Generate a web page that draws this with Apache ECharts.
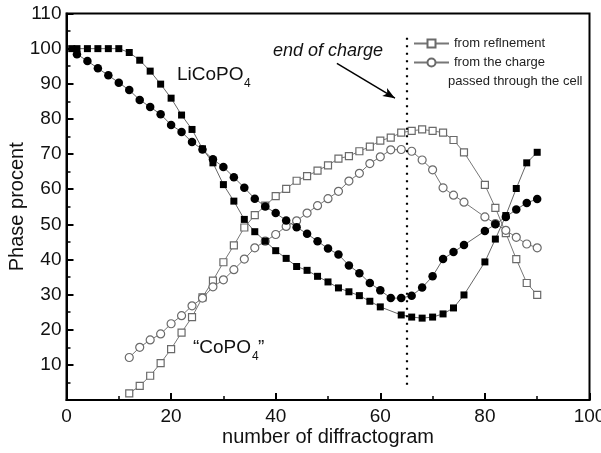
<!DOCTYPE html>
<html><head><meta charset="utf-8">
<script src="https://cdn.jsdelivr.net/npm/echarts@6/dist/echarts.min.js"></script>
<style>html,body{margin:0;padding:0;background:#fff}#c{width:601px;height:453px}</style>
</head><body><div id="c"></div>
<script>
// ---- data ----
const xTickValues = [0, 20, 40, 60, 80, 100];
const yTickValues = [10, 20, 30, 40, 50, 60, 70, 80, 90, 100, 110];

const liRefX = [1,2,4,6,8,10,12,14,16,18,20,22,24,26,28,30,32,34,36,38,40,42,44,46,48,50,52,54,56,58,60,64,66,68,70,72,74,76,80,82,84,86,88,90];
const liRefY = [100,100,100,100,100,100,98.9,96.7,93.6,89.9,85.9,81.1,77.0,71.5,67.5,61.3,56.6,51.4,47.9,45.2,42.5,40.3,38.0,36.9,35.2,33.6,31.9,30.8,29.7,28.1,26.5,24.2,23.6,23.3,23.6,24.5,26.2,29.9,39.3,45.8,52.5,60.2,67.5,70.5];

const liChgX = [2,4,6,8,10,12,14,16,18,20,22,24,26,28,30,32,34,36,38,40,42,44,46,48,50,52,54,56,58,60,62,64,66,68,70,72,74,76,80,82,84,86,88,90];
const liChgY = [98.4,96.5,94.4,92.4,90.3,88.2,85.4,83.4,81.3,78.3,76.3,73.4,71.3,68.5,66.3,63.4,60.4,57.3,55.1,53.2,51.1,49.2,47.3,45.2,43.1,41.4,38.3,36.1,33.3,31.2,29.0,29.0,29.7,32.0,35.2,40.1,42.1,44.1,48.1,50.0,52.1,54.2,56.1,57.2];

const coRefX = [12,14,16,18,20,22,24,26,28,30,32,34,36,38,40,42,44,46,48,50,52,54,56,58,60,62,64,66,68,70,72,74,76,80,82,84,86,88,90];
const coRefY = [1.9,4.0,6.9,10.5,14.5,19.2,23.6,29.2,34.0,39.2,44.0,49.1,52.6,55.3,58.0,60.1,62.4,63.7,65.3,66.8,68.7,69.4,70.8,72.1,73.8,74.7,76.1,76.6,77.0,76.6,76.1,74.0,70.5,61.2,54.7,47.5,40.1,33.3,29.9];

const coChgX = [12,14,16,18,20,22,24,26,28,30,32,34,36,38,40,42,44,46,48,50,52,54,56,58,60,62,64,66,68,70,72,74,76,80,82,84,86,88,90];
const coChgY = [12.1,15.0,17.1,18.8,21.7,24.0,26.8,29.0,32.2,34.2,37.1,40.1,43.3,45.2,47.1,49.4,51.0,53.2,55.3,57.3,59.4,62.3,64.5,67.3,69.2,71.2,71.3,70.8,68.3,65.5,60.4,58.3,56.3,52.1,50.2,48.3,46.3,44.4,43.3];

const endOfChargeX = 65;
const dottedSpan = [103.1, 3.6];
const arrowFrom = [51.7, 95.8];
const arrowTo = [62.8, 85.9];

const legendNames = ['from reflnement', 'from the charge'];
const legendExtra = 'passed through the cell';

// ---- chart ----
const FONT = "'Liberation Sans', Arial, Helvetica, sans-serif";
const pairs = (xs, ys) => xs.map((x, i) => [x, ys[i]]);
const chart = echarts.init(document.getElementById('c'), null, {renderer: 'canvas'});

const axisCommon = {
  axisLine: {show: true, lineStyle: {color: '#000', width: 2}},
  axisTick: {show: true, inside: true, length: 7, lineStyle: {color: '#000', width: 2}},
  minorTick: {show: true, splitNumber: 2, length: 4, lineStyle: {color: '#000', width: 1.5}},
  splitLine: {show: false},
  minorSplitLine: {show: false},
  nameMoveOverlap: false,
  axisLabel: {color: '#111', fontSize: 19, fontFamily: FONT},
  nameTextStyle: {color: '#111', fontSize: 20, fontFamily: FONT}
};

const option = {
  animation: false,
  backgroundColor: '#fff',
  grid: {left: 66.5, right: 11.5, top: 13.5, bottom: 53, outerBoundsMode: 'none', containLabel: false,
    show: true, borderColor: '#000', borderWidth: 2, backgroundColor: 'transparent'},
  xAxis: Object.assign({}, axisCommon, {
    type: 'value', min: 0, max: 100, interval: 20,
    name: 'number of diffractogram', nameLocation: 'middle', nameGap: 27,
    axisLabel: Object.assign({}, axisCommon.axisLabel, {margin: 7,
      formatter: v => (xTickValues.indexOf(v) >= 0 ? String(v) : '')})
  }),
  yAxis: Object.assign({}, axisCommon, {
    type: 'value', min: 0, max: 110, interval: 10,
    name: 'Phase procent', nameLocation: 'middle', nameGap: 39,
    axisLabel: Object.assign({}, axisCommon.axisLabel, {margin: 5,
      formatter: v => (yTickValues.indexOf(v) >= 0 ? String(v) : '')})
  }),
  legend: {
    data: legendNames, orient: 'vertical', left: 408, top: 31.5,
    itemWidth: 35, itemHeight: 10, itemGap: 5,
    textStyle: {color: '#222', fontSize: 13, fontFamily: FONT, lineHeight: 14},
    selectedMode: false
  },
  series: [
    {
      name: legendNames[0], type: 'line', data: pairs(coRefX, coRefY),
      symbol: 'rect', symbolSize: 7, z: 2,
      lineStyle: {color: '#777', width: 1},
      itemStyle: {color: '#fff', borderColor: '#6a6a6a', borderWidth: 1.2},
      emphasis: {disabled: true}
    },
    {
      name: legendNames[1], type: 'line', data: pairs(coChgX, coChgY),
      symbol: 'circle', symbolSize: 8, z: 2,
      lineStyle: {color: '#777', width: 1},
      itemStyle: {color: '#fff', borderColor: '#6a6a6a', borderWidth: 1.2},
      emphasis: {disabled: true}
    },
    {
      name: 'LiCoPO4 refinement', type: 'line', data: pairs(liRefX, liRefY),
      symbol: 'rect', symbolSize: 7, z: 3,
      lineStyle: {color: '#666', width: 1},
      itemStyle: {color: '#000'},
      emphasis: {disabled: true}
    },
    {
      name: 'LiCoPO4 charge', type: 'line', data: pairs(liChgX, liChgY),
      symbol: 'circle', symbolSize: 8.5, z: 3,
      lineStyle: {color: '#666', width: 1},
      itemStyle: {color: '#000'},
      emphasis: {disabled: true},
      markLine: {
        silent: true, animation: false,
        label: {show: false},
        data: [
          [{coord: [endOfChargeX, dottedSpan[0]], symbol: 'none', lineStyle: {color: '#000', width: 2.2, type: [2, 5.5]}},
           {coord: [endOfChargeX, dottedSpan[1]], symbol: 'none'}],
          [{coord: arrowFrom, symbol: 'none', lineStyle: {color: '#000', width: 1.5, type: 'solid'}},
           {coord: arrowTo, symbol: 'arrow', symbolSize: [7, 12]}]
        ]
      }
    }
  ],
  graphic: [
    {type: 'text', left: 177, top: 65, style: {text: 'LiCoPO', font: '19px ' + FONT, fill: '#111'}},
    {type: 'text', left: 244, top: 78, style: {text: '4', font: '12px ' + FONT, fill: '#111'}},
    {type: 'text', left: 193, top: 338, style: {text: '\u201CCoPO', font: '19px ' + FONT, fill: '#111'}},
    {type: 'text', left: 252, top: 351, style: {text: '4', font: '12px ' + FONT, fill: '#111'}},
    {type: 'text', left: 258, top: 338, style: {text: '\u201D', font: '19px ' + FONT, fill: '#111'}},
    {type: 'text', left: 273, top: 42, style: {text: 'end of charge', font: 'italic 18px ' + FONT, fill: '#111'}},
    {type: 'text', left: 448, top: 74.5, style: {text: legendExtra, font: '13px ' + FONT, fill: '#222'}}
  ]
};
chart.setOption(option);
</script>
</body></html>
